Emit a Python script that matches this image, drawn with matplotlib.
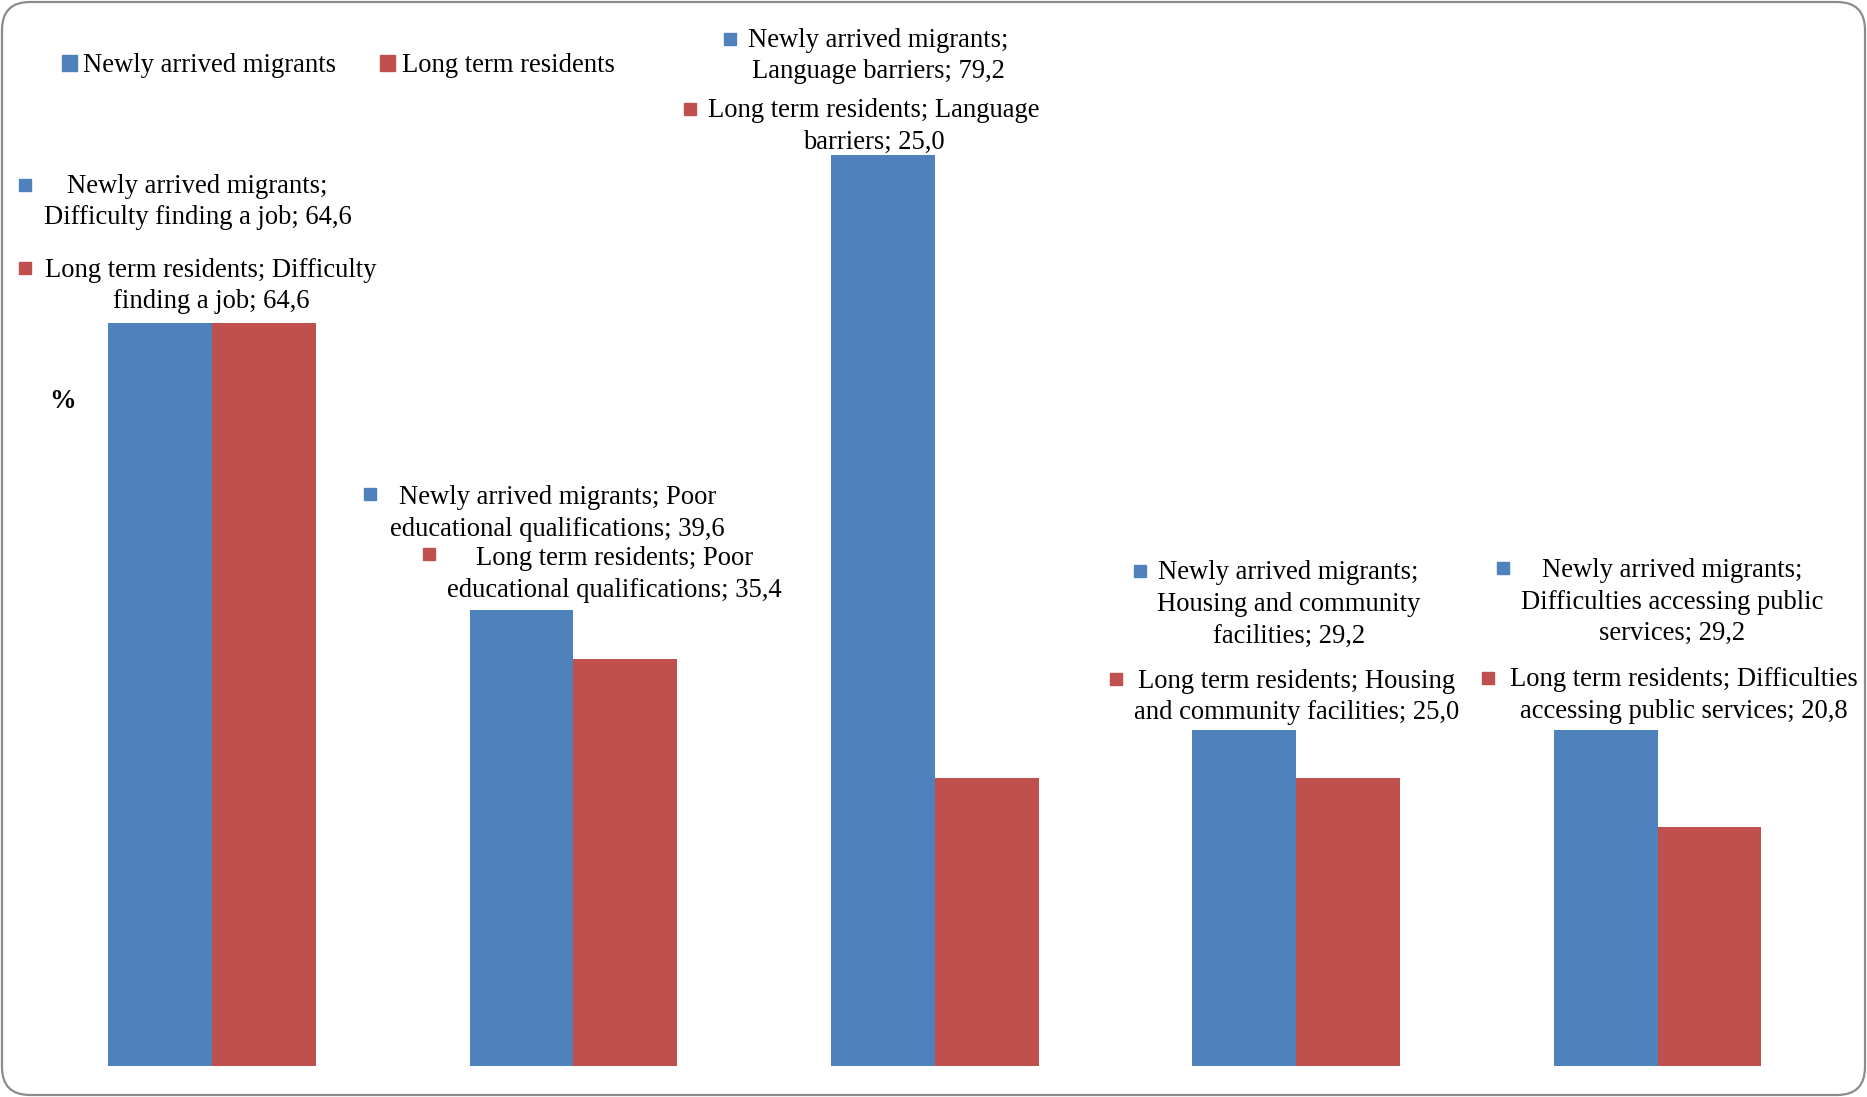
import numpy as np
import matplotlib
matplotlib.use("Agg")
import matplotlib.pyplot as plt
from matplotlib.patches import FancyBboxPatch, Rectangle

plt.rcParams["font.family"] = ["Liberation Serif", "DejaVu Serif"]

# data
categories = ["Difficulty finding a job", "Poor educational qualifications",
              "Language barriers", "Housing and community facilities",
              "Difficulties accessing public services"]
series = ["Newly arrived migrants", "Long term residents"]
newly = [64.6, 39.6, 79.2, 29.2, 29.2]
longterm = [64.6, 35.4, 25.0, 25.0, 20.8]

# label text, split the way the chart wraps it
labels_newly = ["Newly arrived migrants;\nDifficulty finding a job; 64,6",
                "Newly arrived migrants; Poor\neducational qualifications; 39,6",
                "Newly arrived migrants;\nLanguage barriers; 79,2",
                "Newly arrived migrants;\nHousing and community\nfacilities; 29,2",
                "Newly arrived migrants;\nDifficulties accessing public\nservices; 29,2"]
labels_long = ["Long term residents; Difficulty\nfinding a job; 64,6",
               "Long term residents; Poor\neducational qualifications; 35,4",
               "Long term residents; Language\nbarriers; 25,0",
               "Long term residents; Housing\nand community facilities; 25,0",
               "Long term residents; Difficulties\naccessing public services; 20,8"]

# layout: (text x, text y, key x, key y) in data units
pos_newly = [(-0.040, 75.1, -0.517, 76.6),
             (0.955, 48.0, 0.437, 49.7),
             (1.843, 87.8, 1.432, 89.3),
             (2.979, 40.1, 2.567, 43.0),
             (4.040, 40.3, 3.572, 43.3)]
pos_long = [(-0.003, 67.8, -0.517, 69.4),
            (1.113, 42.7, 0.601, 44.5),
            (1.832, 81.65, 1.323, 83.2),
            (3.000, 32.05, 2.501, 33.6),
            (4.072, 32.2, 3.532, 33.75)]

blue = "#4F81BD"
red = "#C0504D"
fs = 19.2
ls = 1.35

W, H = 1867, 1097
fig = plt.figure(figsize=(W / 100, H / 100), dpi=100)
ax = fig.add_axes([31.3 / W, 1 - 1065.7 / H, (1838.3 - 31.3) / W, (1065.7 - 30.7) / H])

x = np.arange(len(categories))
bw = 0.287
ax.bar(x - bw / 2, newly, bw, color=blue, label=series[0])
ax.bar(x + bw / 2, longterm, bw, color=red, label=series[1])
ax.set_xlim(-0.5, len(categories) - 0.5)
ax.set_ylim(0, 90)
ax.axis("off")

for lab, p in zip(labels_newly, pos_newly):
    ax.text(p[0], p[1], lab, ha="center", va="center", fontsize=fs,
            linespacing=ls, clip_on=False)
    ax.plot(p[2], p[3], "s", color=blue, markersize=8.5, clip_on=False)
for lab, p in zip(labels_long, pos_long):
    ax.text(p[0], p[1], lab, ha="center", va="center", fontsize=fs,
            linespacing=ls, clip_on=False)
    ax.plot(p[2], p[3], "s", color=red, markersize=8.5, clip_on=False)

handles = [Rectangle((0, 0), 1, 1, color=blue), Rectangle((0, 0), 1, 1, color=red)]
fig.legend(handles, series, loc="center left", bbox_to_anchor=(62 / W, 1 - 66 / H),
           ncol=2, frameon=False, fontsize=fs, handlelength=0.55, handleheight=0.55,
           handletextpad=0.25, columnspacing=1.65, borderpad=0, borderaxespad=0)

fig.text(63 / W, 1 - 402 / H, "%", ha="center", va="center", fontsize=fs,
         fontweight="bold")

# rounded chart border
border = FancyBboxPatch((0.02, 0.02), W / 100 - 0.04, H / 100 - 0.04,
                        boxstyle="round,pad=0,rounding_size=0.28",
                        transform=fig.dpi_scale_trans, facecolor="none",
                        edgecolor="#8C8C8C", linewidth=1.6)
fig.patches.append(border)

fig.savefig("out.png", dpi=100, facecolor="white")
